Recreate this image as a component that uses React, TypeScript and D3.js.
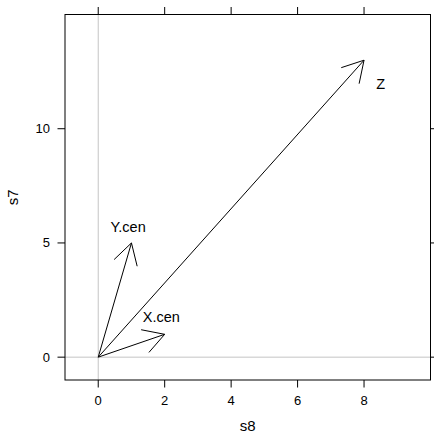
import React, { useRef, useEffect } from "react";
import * as d3 from "d3";

// arrow ends (s8, s7)
const names = ["X.cen", "Y.cen", "Z"];
const endX = [2, 1, 8];
const endY = [1, 5, 13];
// label anchor (baseline, centred) in data units
const labelX = [1.9, 0.9, 8.5];
const labelY = [1.55, 5.5, 11.75];

const xTicks = [0, 2, 4, 6, 8];
const yTicks = [0, 5, 10];

const App = () => {
  const ref = useRef<SVGSVGElement | null>(null);

  useEffect(() => {
    const svg = d3.select(ref.current);
    svg.selectAll("*").remove();

    const left = 65, right = 430.5, top = 14.5, bottom = 380;
    const x = d3.scaleLinear().domain([-1, 10]).range([left, right]);
    const y = d3.scaleLinear().domain([-1, 15]).range([bottom, top]);
    const font = "Liberation Sans, Arial, sans-serif";

    // reference lines
    svg.append("line")
      .attr("x1", x(0)).attr("x2", x(0)).attr("y1", top).attr("y2", bottom)
      .attr("stroke", "#c4c4c4");
    svg.append("line")
      .attr("x1", left).attr("x2", right).attr("y1", y(0)).attr("y2", y(0))
      .attr("stroke", "#c4c4c4");

    // arrows
    const g = svg.append("g").attr("stroke", "#000").attr("fill", "none");
    const headLen = 24, headAng = Math.PI / 6;
    names.forEach((n, i) => {
      const x0 = x(0), y0 = y(0), x1 = x(endX[i]), y1 = y(endY[i]);
      g.append("line").attr("x1", x0).attr("y1", y0).attr("x2", x1).attr("y2", y1);
      const a = Math.atan2(y0 - y1, x0 - x1);
      const p = d3.path();
      p.moveTo(x1 + headLen * Math.cos(a + headAng), y1 + headLen * Math.sin(a + headAng));
      p.lineTo(x1, y1);
      p.lineTo(x1 + headLen * Math.cos(a - headAng), y1 + headLen * Math.sin(a - headAng));
      g.append("path").attr("d", p.toString());
      svg.append("text")
        .attr("x", x(labelX[i])).attr("y", y(labelY[i]))
        .attr("text-anchor", "middle")
        .style("font-family", font).style("font-size", "14.5px")
        .text(n);
    });

    // panel box
    svg.append("rect")
      .attr("x", left).attr("y", top)
      .attr("width", right - left).attr("height", bottom - top)
      .attr("fill", "none").attr("stroke", "#000");

    const tl = 7.5;
    const ax = svg.append("g").attr("stroke", "#000");
    xTicks.forEach((t) => {
      ax.append("line").attr("x1", x(t)).attr("x2", x(t)).attr("y1", bottom).attr("y2", bottom + tl);
      ax.append("line").attr("x1", x(t)).attr("x2", x(t)).attr("y1", top).attr("y2", top - tl);
      svg.append("text")
        .attr("x", x(t)).attr("y", bottom + 24.5)
        .attr("text-anchor", "middle")
        .style("font-family", font).style("font-size", "13px")
        .text(t);
    });
    yTicks.forEach((t) => {
      ax.append("line").attr("x1", left).attr("x2", left - tl).attr("y1", y(t)).attr("y2", y(t));
      ax.append("line").attr("x1", right).attr("x2", right + tl).attr("y1", y(t)).attr("y2", y(t));
      svg.append("text")
        .attr("x", 50).attr("y", y(t)).attr("dy", "0.35em")
        .attr("text-anchor", "end")
        .style("font-family", font).style("font-size", "13px")
        .text(t);
    });

    // axis titles
    svg.append("text")
      .attr("x", (left + right) / 2).attr("y", 431)
      .attr("text-anchor", "middle")
      .style("font-family", font).style("font-size", "15px")
      .text("s8");
    svg.append("text")
      .attr("transform", `translate(18,${(top + bottom) / 2}) rotate(-90)`)
      .attr("text-anchor", "middle")
      .style("font-family", font).style("font-size", "15px")
      .text("s7");
  }, []);

  return (
    <svg
      ref={ref}
      width={434}
      height={434}
      style={{ position: "absolute", left: 0, top: 0, background: "#fff" }}
    />
  );
};

export default App;
